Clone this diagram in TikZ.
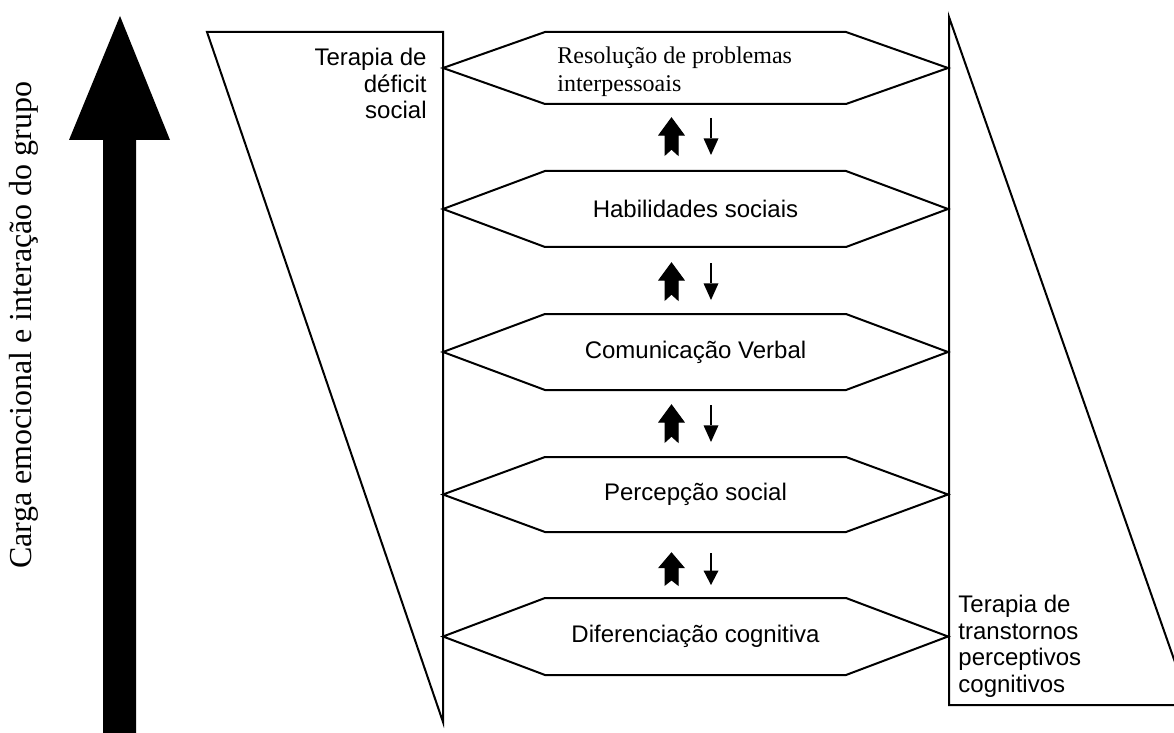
\documentclass[tikz,border=0pt]{standalone}
\usepackage{fontspec}
\setmainfont{Liberation Serif}
\newfontfamily\arialfont{Liberation Sans}

\tikzset{
  outline/.style={draw=black, line width=1pt, line join=miter},
  levellabel/.style={font=\arialfont\fontsize{12}{13.3}\selectfont, inner sep=0pt},
  sidelabel/.style={font=\arialfont\fontsize{12}{13.3}\selectfont, inner sep=0pt},
  bigarrow/.style={fill=black, draw=none},
  uparrow/.style={fill=black, draw=black, line width=0.5pt, line join=miter},
  downarrow/.style={draw=black, line width=1pt},
}

% one level of the ladder: name, top y, bottom y
\newcommand\levelhex[3]{%
  \coordinate (#1-w) at (443,{(#2+#3)/2});
  \coordinate (#1-e) at (948,{(#2+#3)/2});
  \draw[outline] (#1-w) -- (545,#2) -- (846,#2) -- (#1-e) -- (846,#3) -- (545,#3) -- cycle;
}

% pair of arrows between two levels: name, top y, height
\newcommand\updown[3]{%
  \coordinate (#1-up) at (671.5,#2);
  \coordinate (#1-dn) at (711,#2);
  \fill[uparrow] (#1-up) -- ++(12.5,{0.46*#3}) -- ++(-6,0) -- ++(0,{0.54*#3})
    -- ++(-6.5,{-0.16*#3}) -- ++(-6.5,{0.16*#3}) -- ++(0,{-0.54*#3}) -- ++(-6,0) -- cycle;
  \draw[downarrow] (#1-dn) -- ++(0,{0.55*#3});
  \fill (#1-dn) ++(-7.5,{0.55*#3}) -- ++(15,0) -- ++(-7.5,{0.45*#3}) -- cycle;
}

\begin{document}
\begin{tikzpicture}[x=0.5pt, y=-0.5pt]
\useasboundingbox (0,0) rectangle (1174,733);
\clip (0,0) rectangle (1174,733);

% vertical axis: big arrow and its caption
\fill[bigarrow] (120,16) -- (170,140) -- (136,140) -- (136,740) -- (103,740) -- (103,140) -- (69,140) -- cycle;
\node[rotate=90, font=\fontsize{16}{18}\selectfont, inner sep=0pt] (axis) at (24,325)
  {Carga emocional e interação do grupo};

% left and right wedges
\draw[outline] (207,32) -- (443,32) -- (443,722) -- cycle;
\draw[outline] (949,17) -- (949,705) -- (1190,705) -- cycle;

\node[sidelabel, align=right, anchor=north east] (social) at (427,48)
  {Terapia de\\déficit\\social};
\node[sidelabel, align=left, anchor=north west] (cognitive) at (958,595)
  {Terapia de\\transtornos\\perceptivos\\cognitivos};

% levels
\levelhex{l1}{32}{104}
\levelhex{l2}{171}{247}
\levelhex{l3}{314}{390}
\levelhex{l4}{457}{532}
\levelhex{l5}{598}{675}

\node[font=\fontsize{12}{14}\selectfont, inner sep=0pt, align=left, anchor=north west] (t1) at (557,46)
  {Resolução de problemas\\interpessoais};
\node[levellabel] (t2) at (695.5,209) {Habilidades sociais};
\node[levellabel] (t3) at (695.5,352) {Comunicação Verbal};
\node[levellabel] (t4) at (695.5,494.5) {Percepção social};
\node[levellabel] (t5) at (695.5,636.5) {Diferenciação cognitiva};

% arrows between levels
\updown{a1}{118}{37}
\updown{a2}{263}{37}
\updown{a3}{405}{37}
\updown{a4}{553}{32}
\end{tikzpicture}
\end{document}
